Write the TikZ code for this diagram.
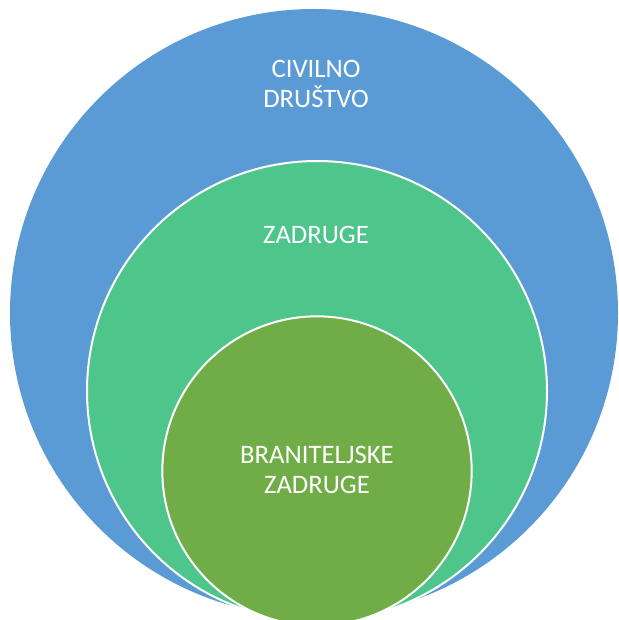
\documentclass[tikz,border=0pt]{standalone}
\usepackage{fontspec}
\setmainfont{Carlito}
\usepackage{xcolor}
\usetikzlibrary{positioning}
\definecolor{civilblue}{HTML}{5B9BD5}
\definecolor{zadrugegreen}{HTML}{4EC58B}
\definecolor{branitgreen}{HTML}{70AD47}

\begin{document}
\begin{tikzpicture}[
      x=0.75pt, y=-0.75pt,
      ring/.style={
        circle,
        inner sep=0pt,
        outer sep=0pt,
        draw=white,
        line width=1.5pt
      },
      caption/.style={
        text=white,
        align=center,
        font=\fontsize{20}{22.5}\selectfont
      }
    ]

    \useasboundingbox (0,0) rectangle (618,620);

    \node[ring, draw=none, fill=civilblue, minimum size=456pt] (civilno) at (314,313) {};
    \node[ring, fill=zadrugegreen, minimum size=345pt] (zadruge) at (317,391) {};
    \node[ring, fill=branitgreen, minimum size=232pt] (branit) at (317,471) {};

    \node[caption] (civilnotxt) at (316,84) {CIVILNO\\DRUŠTVO};
    \node[caption] (zadrugetxt) at (316,235) {ZADRUGE};
    \node[caption] (branittxt) at (317,470) {BRANITELJSKE\\ZADRUGE};

    \end{tikzpicture}
\end{document}
